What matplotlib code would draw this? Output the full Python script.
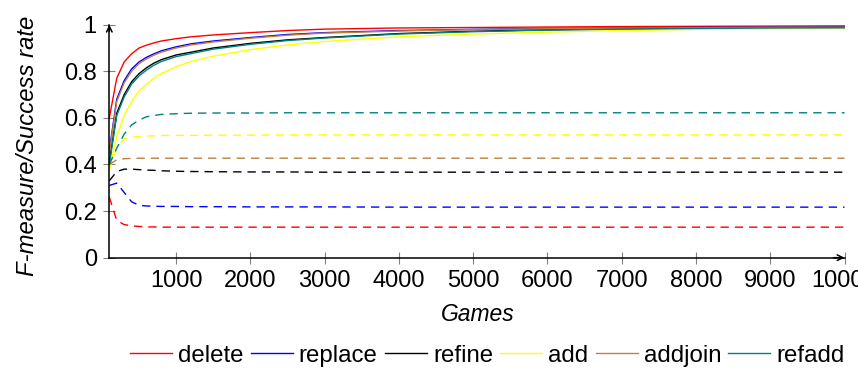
import matplotlib
matplotlib.use("Agg")
import matplotlib.pyplot as plt

plt.rcParams['font.family'] = ['Liberation Sans', 'DejaVu Sans']

games = [100, 200, 300, 400, 500, 600, 700, 800, 1000, 1200, 1500, 2000,
         2500, 3000, 4000, 5000, 6000, 7000, 8000, 9000, 10000]

# solid lines
delete_f  = [0.60, 0.77, 0.84, 0.875, 0.90, 0.912, 0.922, 0.93, 0.94, 0.948, 0.956,
             0.966, 0.975, 0.981, 0.986, 0.988, 0.990, 0.992, 0.993, 0.994, 0.995]
replace_f = [0.46, 0.68, 0.76, 0.81, 0.84, 0.86, 0.875, 0.888, 0.905, 0.918, 0.93,
             0.945, 0.958, 0.966, 0.975, 0.980, 0.984, 0.986, 0.988, 0.989, 0.990]
addjoin_f = [0.45, 0.67, 0.75, 0.80, 0.833, 0.853, 0.869, 0.882, 0.90, 0.913, 0.926,
             0.942, 0.955, 0.964, 0.973, 0.979, 0.983, 0.985, 0.987, 0.988, 0.989]
refine_f  = [0.41, 0.62, 0.70, 0.755, 0.79, 0.815, 0.835, 0.85, 0.87, 0.882, 0.90,
             0.92, 0.935, 0.945, 0.962, 0.972, 0.978, 0.982, 0.985, 0.987, 0.988]
refadd_f  = [0.40, 0.61, 0.69, 0.745, 0.78, 0.805, 0.826, 0.842, 0.863, 0.876, 0.895,
             0.916, 0.932, 0.943, 0.960, 0.970, 0.977, 0.981, 0.984, 0.986, 0.987]
add_f     = [0.38, 0.52, 0.61, 0.67, 0.715, 0.745, 0.77, 0.79, 0.82, 0.842, 0.865,
             0.893, 0.913, 0.928, 0.948, 0.960, 0.968, 0.975, 0.980, 0.984, 0.987]

# dashed lines
delete_s  = [0.26, 0.16, 0.142, 0.137, 0.134, 0.132, 0.132, 0.131, 0.131, 0.131, 0.131,
             0.131, 0.131, 0.131, 0.131, 0.131, 0.131, 0.131, 0.131, 0.131, 0.131]
replace_s = [0.31, 0.32, 0.28, 0.24, 0.225, 0.222, 0.221, 0.22, 0.22, 0.219, 0.219,
             0.218, 0.218, 0.218, 0.217, 0.217, 0.217, 0.217, 0.217, 0.217, 0.217]
refine_s  = [0.33, 0.37, 0.38, 0.38, 0.378, 0.376, 0.375, 0.373, 0.371, 0.370, 0.369,
             0.368, 0.368, 0.367, 0.367, 0.367, 0.367, 0.367, 0.367, 0.367, 0.367]
addjoin_s = [0.40, 0.42, 0.425, 0.426, 0.427, 0.427, 0.427, 0.427, 0.427, 0.427, 0.427,
             0.427, 0.427, 0.427, 0.427, 0.427, 0.427, 0.427, 0.427, 0.427, 0.427]
add_s     = [0.38, 0.47, 0.51, 0.517, 0.52, 0.522, 0.523, 0.524, 0.525, 0.525, 0.526,
             0.526, 0.527, 0.527, 0.527, 0.527, 0.527, 0.527, 0.527, 0.527, 0.527]
refadd_s  = [0.40, 0.47, 0.53, 0.57, 0.59, 0.605, 0.61, 0.615, 0.618, 0.62, 0.621,
             0.621, 0.622, 0.622, 0.622, 0.622, 0.622, 0.622, 0.622, 0.622, 0.622]

names = ['delete', 'replace', 'refine', 'add', 'addjoin', 'refadd']
colors = ['#ff0000', '#0000ff', '#000000', '#ffff00', '#bf8040', '#008080']
solid = [delete_f, replace_f, refine_f, add_f, addjoin_f, refadd_f]
dashed = [delete_s, replace_s, refine_s, add_s, addjoin_s, refadd_s]

fig = plt.figure(figsize=(8.58, 3.86), dpi=100)
ax = fig.add_axes([0.1274, 0.3324, 0.9843 - 0.1274, 0.936 - 0.3324])

handles = []
for name, c, s, d in zip(names, colors, solid, dashed):
    h, = ax.plot(games, s, color=c, lw=1.0, label=name)
    ax.plot(games, d, color=c, lw=1.0, dashes=(6, 4.3))
    handles.append(h)

ax.set_xlim(100, 10000)
ax.set_ylim(0, 1)
ax.set_xticks([1000, 2000, 3000, 4000, 5000, 6000, 7000, 8000, 9000, 10000])
ax.set_yticks([0, 0.2, 0.4, 0.6, 0.8, 1])
ax.set_yticklabels(['0', '0.2', '0.4', '0.6', '0.8', '1'])
ax.tick_params(direction='inout', length=8, width=0.8, color='#808080',
               labelsize=17, pad=5)
for sp in ['top', 'right']:
    ax.spines[sp].set_visible(False)
for sp in ['left', 'bottom']:
    ax.spines[sp].set_linewidth(1.1)
ax.annotate('', xy=(1.0, 0), xytext=(0.985, 0), xycoords='axes fraction',
            arrowprops=dict(arrowstyle='->', lw=1.1, color='black',
                            shrinkA=0, shrinkB=0))
ax.annotate('', xy=(0, 1.0), xytext=(0, 0.97), xycoords='axes fraction',
            arrowprops=dict(arrowstyle='->', lw=1.1, color='black',
                            shrinkA=0, shrinkB=0))

ax.set_xlabel('Games', fontsize=16.5, style='italic')
ax.set_ylabel('F-measure/Success rate', fontsize=17.2, style='italic')
ax.xaxis.set_label_coords(0.5 - (0.5 * 735.2 - (478 - 109.3)) / 735.2, -0.195)
ax.yaxis.set_label_coords(-0.096, 0.48)

fig.legend(handles=handles, labels=names, loc='center',
           bbox_to_anchor=(0.568, 0.078), ncol=6, frameon=False,
           fontsize=17.3, handlelength=1.75, handletextpad=0.25,
           columnspacing=0.3)

fig.savefig('out.png', dpi=100)
